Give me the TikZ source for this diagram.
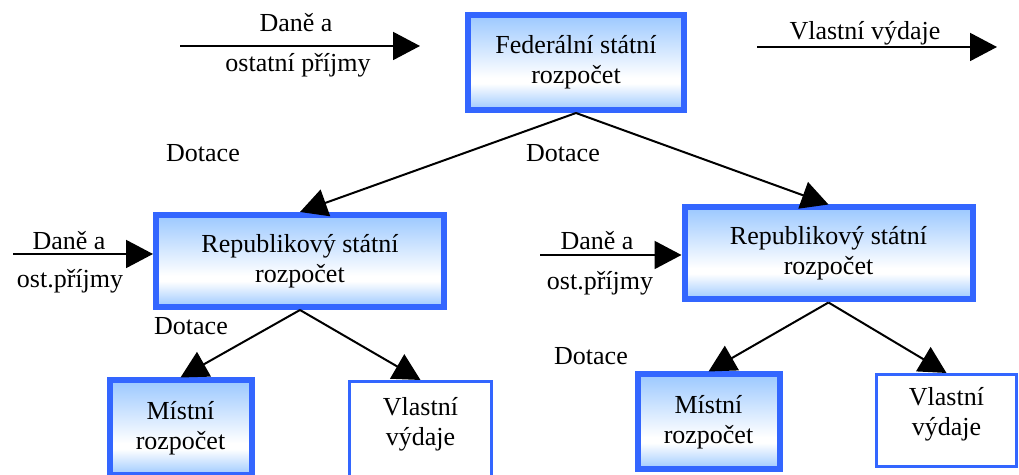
\documentclass[tikz,border=0pt]{standalone}
\usepackage{fontspec}
\setmainfont{Liberation Serif}
\usepackage{tikz}
\usetikzlibrary{positioning, calc}
\usetikzlibrary{arrows.meta}

% Define colors
\definecolor{boxblue}{RGB}{51,102,255}
\definecolor{shadeblue}{RGB}{155,200,255}
\pgfdeclareverticalshading{boxshade}{100bp}{color(0bp)=(shadeblue); color(25bp)=(shadeblue); color(39bp)=(white); color(42bp)=(white); color(75bp)=(shadeblue); color(100bp)=(shadeblue)}

\begin{document}
\begin{tikzpicture}[x=0.5pt, y=-0.5pt, font=\fontsize{13pt}{15pt}\selectfont, align=center, >={Triangle[length=13.5pt, width=14pt]}, line width=1pt,
        budget/.style={draw=boxblue, line width=3pt, shading=boxshade},
        spending/.style={draw=boxblue, line width=1.5pt, fill=white, text depth=9pt}]
        % Frame
        \path[fill=white, use as bounding box] (0,0) rectangle (1019,475);
        \clip (0,0) rectangle (1019,475);

        % Nodes
        \node[budget, minimum width=108pt, minimum height=47.5pt] (federal) at (576,62.5) {Federální státní\\rozpočet};
        \node[budget, minimum width=144pt, minimum height=46pt] (repL) at (300,261) {Republikový státní\\rozpočet};
        \node[budget, minimum width=144pt, minimum height=46pt] (repR) at (828.5,253.5) {Republikový státní\\rozpočet};
        \node[budget, minimum width=71pt, minimum height=47.5pt] (localL) at (180.5,428) {Místní\\rozpočet};
        \node[budget, minimum width=71pt, minimum height=47.5pt] (localR) at (708.5,422) {Místní\\rozpočet};
        \node[spending, minimum width=71pt, minimum height=48.5pt] (ownL) at (420.5,430) {Vlastní\\výdaje};
        \node[spending, minimum width=70pt, minimum height=46pt] (ownR) at (946.5,420.5) {Vlastní\\výdaje};

        \coordinate (taxTopA) at (180,46);
        \coordinate (taxTopB) at (420,46);
        \coordinate (spendTopA) at (757,47);
        \coordinate (spendTopB) at (997,47);
        \coordinate (taxL) at (13,254);
        \coordinate (taxR) at (540,255);

        % Labels
        \node[anchor=base] (taxTop1) at (296,32) {Daně a};
        \node[anchor=base] (taxTop2) at (298,72) {ostatní příjmy};
        \node[anchor=base] (spendTop) at (865,40) {Vlastní výdaje};
        \node[anchor=base] (taxL1) at (69,250) {Daně a};
        \node[anchor=base] (taxL2) at (70,288) {ost.příjmy};
        \node[anchor=base] (taxR1) at (597,250) {Daně a};
        \node[anchor=base] (taxR2) at (600,290) {ost.příjmy};
        \node[anchor=base] (grant1) at (203,162) {Dotace};
        \node[anchor=base] (grant2) at (563,162) {Dotace};
        \node[anchor=base] (grant3) at (191,335) {Dotace};
        \node[anchor=base] (grant4) at (591,365) {Dotace};

        % Edges
        \draw[->] (taxTopA) -- (taxTopB);
        \draw[->] (spendTopA) -- (spendTopB);
        \draw[->] (taxL) -- (taxL -| repL.west);
        \draw[->] (taxR) -- (taxR -| repR.west);
        \foreach \j in {repL, repR} {
            \draw[->] (federal.south) -- (\j.north);
        }
        \foreach \j in {localL, ownL} {
            \draw[->] (repL.south) -- (\j.north);
        }
        \foreach \j in {localR, ownR} {
            \draw[->] (repR.south) -- (\j.north);
        }
    \end{tikzpicture}
\end{document}
